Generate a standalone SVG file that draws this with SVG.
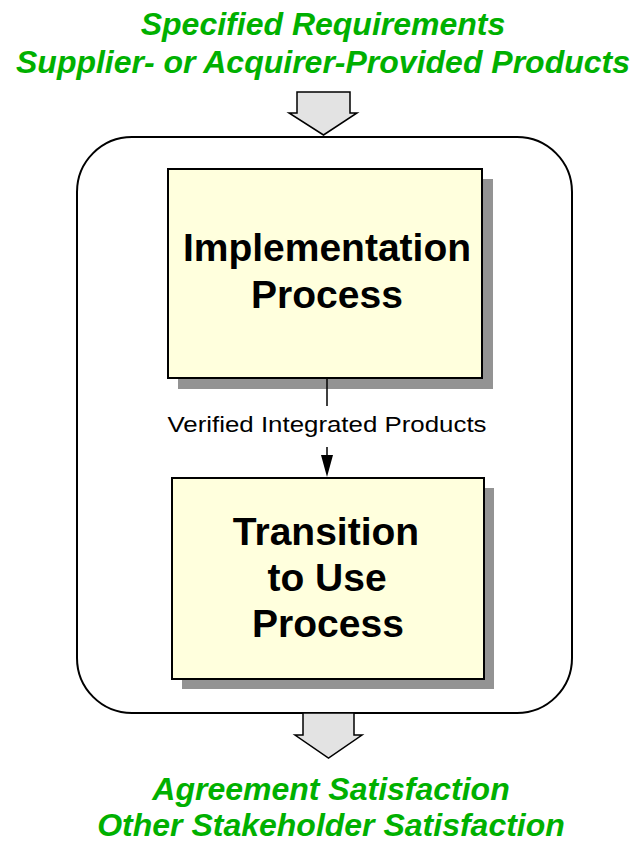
<svg xmlns="http://www.w3.org/2000/svg" width="637" height="842" viewBox="0 0 637 842">
<style>
.g{font-family:"Liberation Sans",Arial,sans-serif;font-weight:bold;font-style:italic;font-size:32px;fill:#00b000;text-anchor:middle}
.b{font-family:"Liberation Sans",Arial,sans-serif;font-weight:bold;font-size:39px;fill:#000;text-anchor:middle}
.l{font-family:"Liberation Sans",Arial,sans-serif;font-size:22px;fill:#000;text-anchor:middle}
.box{fill:#ffffdd;stroke:#000;stroke-width:2}
.sh{fill:#939393}
.blk{fill:#e3e3e3;stroke:#000;stroke-width:1.5}
</style>
<rect width="637" height="842" fill="#fff"/>
<g id="inputs">
<text class="g" x="323" y="35">Specified Requirements</text>
<text class="g" x="323" y="73">Supplier- or Acquirer-Provided Products</text>
<polygon class="blk" points="297,92 350,92 350,113 357,113 323.5,135 289,113 297,113"/>
</g>
<g id="container">
<rect x="77" y="137" width="495" height="576" rx="55" ry="55" fill="#fff" stroke="#000" stroke-width="2"/>
</g>
<g id="implementation">
<rect class="sh" x="178" y="179" width="315" height="210"/>
<rect class="box" x="168" y="169" width="314" height="209"/>
<text class="b" x="327" y="261">Implementation</text>
<text class="b" x="327" y="308">Process</text>
</g>
<g id="transition">
<rect class="sh" x="182" y="488" width="312" height="201"/>
<rect class="box" x="172" y="478" width="312" height="201"/>
<text class="b" x="326" y="545">Transition</text>
<text class="b" x="327" y="591">to Use</text>
<text class="b" x="328" y="637">Process</text>
</g>
<g id="connectors">
<line x1="327" y1="379" x2="327" y2="406" stroke="#000" stroke-width="1.5"/>
<line x1="327" y1="447" x2="327" y2="460" stroke="#000" stroke-width="1.5"/>
<polygon points="321,455 333,455 327,477" fill="#000"/>
<text class="l" x="327" y="432" textLength="319" lengthAdjust="spacingAndGlyphs">Verified Integrated Products</text>
</g>
<g id="outputs">
<polygon class="blk" points="303,713 354,713 354,735 362,735 328.5,758 295,735 303,735"/>
<text class="g" x="331" y="800">Agreement Satisfaction</text>
<text class="g" x="331" y="836">Other Stakeholder Satisfaction</text>
</g>
</svg>
